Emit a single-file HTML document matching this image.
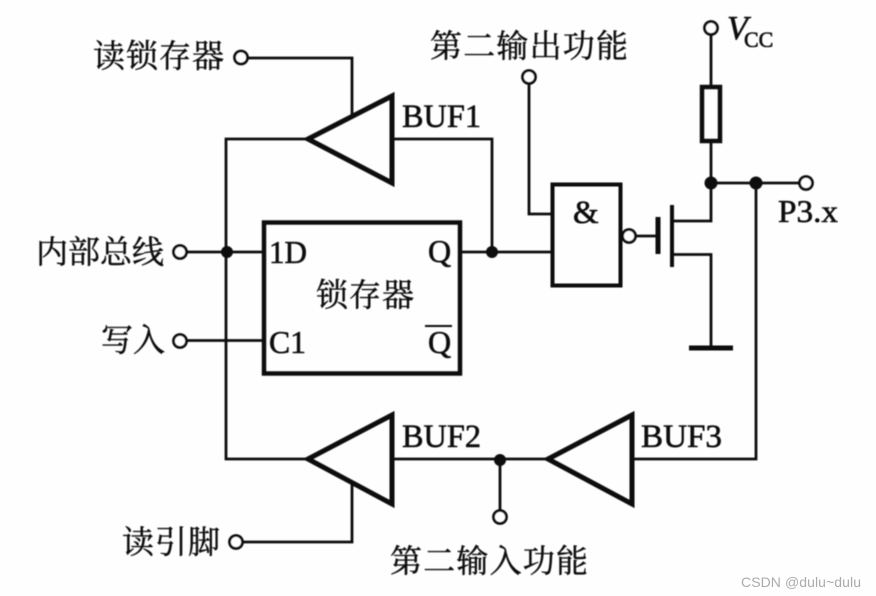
<!DOCTYPE html>
<html><head><meta charset="utf-8"><style>
html,body{margin:0;padding:0;background:#fefefe}
svg{display:block}
.c{font-family:"Liberation Serif","Noto Serif CJK SC",serif;font-size:32px;fill:#111;stroke:#111;stroke-width:.45px}
.l{font-family:"Liberation Serif",serif;font-size:32px;fill:#111;stroke:#111;stroke-width:.6px}
</style></head><body>
<svg width="876" height="596" viewBox="0 0 876 596" xmlns="http://www.w3.org/2000/svg">
<rect width="876" height="596" fill="#fefefe"/>
<g filter="url(#b)">
<defs><filter id="b" x="0" y="0" width="100%" height="100%"><feGaussianBlur stdDeviation="0.45"/></filter></defs>
<g fill="none" stroke="#111" stroke-width="2.8">
<path d="M247 58H352V115"/>
<path d="M306 139H226V459H306"/>
<path d="M186 252H262"/>
<path d="M186 340.500H262"/>
<path d="M392 139H492V252"/>
<path d="M460 252H551"/>
<path d="M529 84V214H551"/>
<path d="M711 35V85M711 142V183M711 183H800"/>
<path d="M756 183V459H633"/>
<path d="M546 459H392"/>
<path d="M500 460V511"/>
<path d="M352 483V542H243"/>
<path d="M635 236H658"/>
<path d="M672 221H711V183M672 254.500H711V348"/>
</g>
<g fill="none" stroke="#111" stroke-width="5" stroke-linejoin="miter">
<path d="M392 96V183L308 139Z"/>
<path d="M392 415V504L308 459Z"/>
<path d="M632 415V504L548 459Z"/>
</g>
<rect x="264" y="222.500" width="196" height="151" fill="none" stroke="#111" stroke-width="4.500"/>
<rect x="552.500" y="184.500" width="68" height="101" fill="none" stroke="#111" stroke-width="4"/>
<rect x="702" y="87" width="18" height="54" fill="none" stroke="#111" stroke-width="4.500"/>
<path d="M658 217V254" stroke="#111" stroke-width="5"/>
<path d="M672 205V267" stroke="#111" stroke-width="4"/>
<path d="M689 348H733" stroke="#111" stroke-width="5"/>
<path d="M425 326H452" stroke="#111" stroke-width="2"/>
<g fill="#111">
<circle cx="227" cy="252" r="6"/><circle cx="492" cy="252" r="6"/>
<circle cx="711" cy="183" r="6.500"/><circle cx="756" cy="183" r="6.500"/>
<circle cx="500" cy="460" r="6"/>
</g>
<g fill="#fff" stroke="#111" stroke-width="2.800">
<circle cx="241" cy="57.500" r="6.500"/><circle cx="180" cy="252" r="6.500"/>
<circle cx="180" cy="341" r="6.500"/><circle cx="236" cy="542" r="6.500"/>
<circle cx="529" cy="77" r="6.500"/><circle cx="711" cy="28" r="6.500"/>
<circle cx="806" cy="183" r="6.500"/><circle cx="500" cy="517" r="6.500"/>
<circle cx="629" cy="236" r="6.500"/>
</g>
<g class="c">
<text x="93" y="67" textLength="131" lengthAdjust="spacing">读锁存器</text>
<text x="36" y="263" textLength="128" lengthAdjust="spacing">内部总线</text>
<text x="101" y="351" textLength="64" lengthAdjust="spacing">写入</text>
<text x="122" y="553" textLength="98" lengthAdjust="spacing">读引脚</text>
<text x="430" y="57" textLength="198" lengthAdjust="spacing">第二输出功能</text>
<text x="390" y="572" textLength="198" lengthAdjust="spacing">第二输入功能</text>
<text x="316" y="306" textLength="98" lengthAdjust="spacing">锁存器</text>
</g>
<g class="l">
<text x="402" y="127" style="font-size:33px" textLength="79" lengthAdjust="spacingAndGlyphs">BUF1</text>
<text x="402" y="447" style="font-size:33px" textLength="79" lengthAdjust="spacingAndGlyphs">BUF2</text>
<text x="641" y="447" style="font-size:33px" textLength="81" lengthAdjust="spacingAndGlyphs">BUF3</text>
<text x="269" y="263" style="font-size:32px" textLength="38" lengthAdjust="spacingAndGlyphs">1D</text>
<text x="269" y="353" style="font-size:32px" textLength="37" lengthAdjust="spacingAndGlyphs">C1</text>
<text x="428" y="262" style="font-size:32px">Q</text>
<text x="428" y="353" style="font-size:32px">Q</text>
<text x="778" y="222" style="font-size:32px" textLength="60" lengthAdjust="spacingAndGlyphs">P3.x</text>
<text x="573" y="223" style="font-size:33px">&amp;</text>
<text x="727" y="39" style="font-size:34px;font-style:italic">V</text>
<text x="744" y="47" style="font-size:22px">CC</text>
</g>
</g>
<text x="741" y="587" font-family="'Liberation Sans',sans-serif" font-size="14" fill="#ababab" textLength="120">CSDN @dulu~dulu</text>
</svg>
</body></html>
